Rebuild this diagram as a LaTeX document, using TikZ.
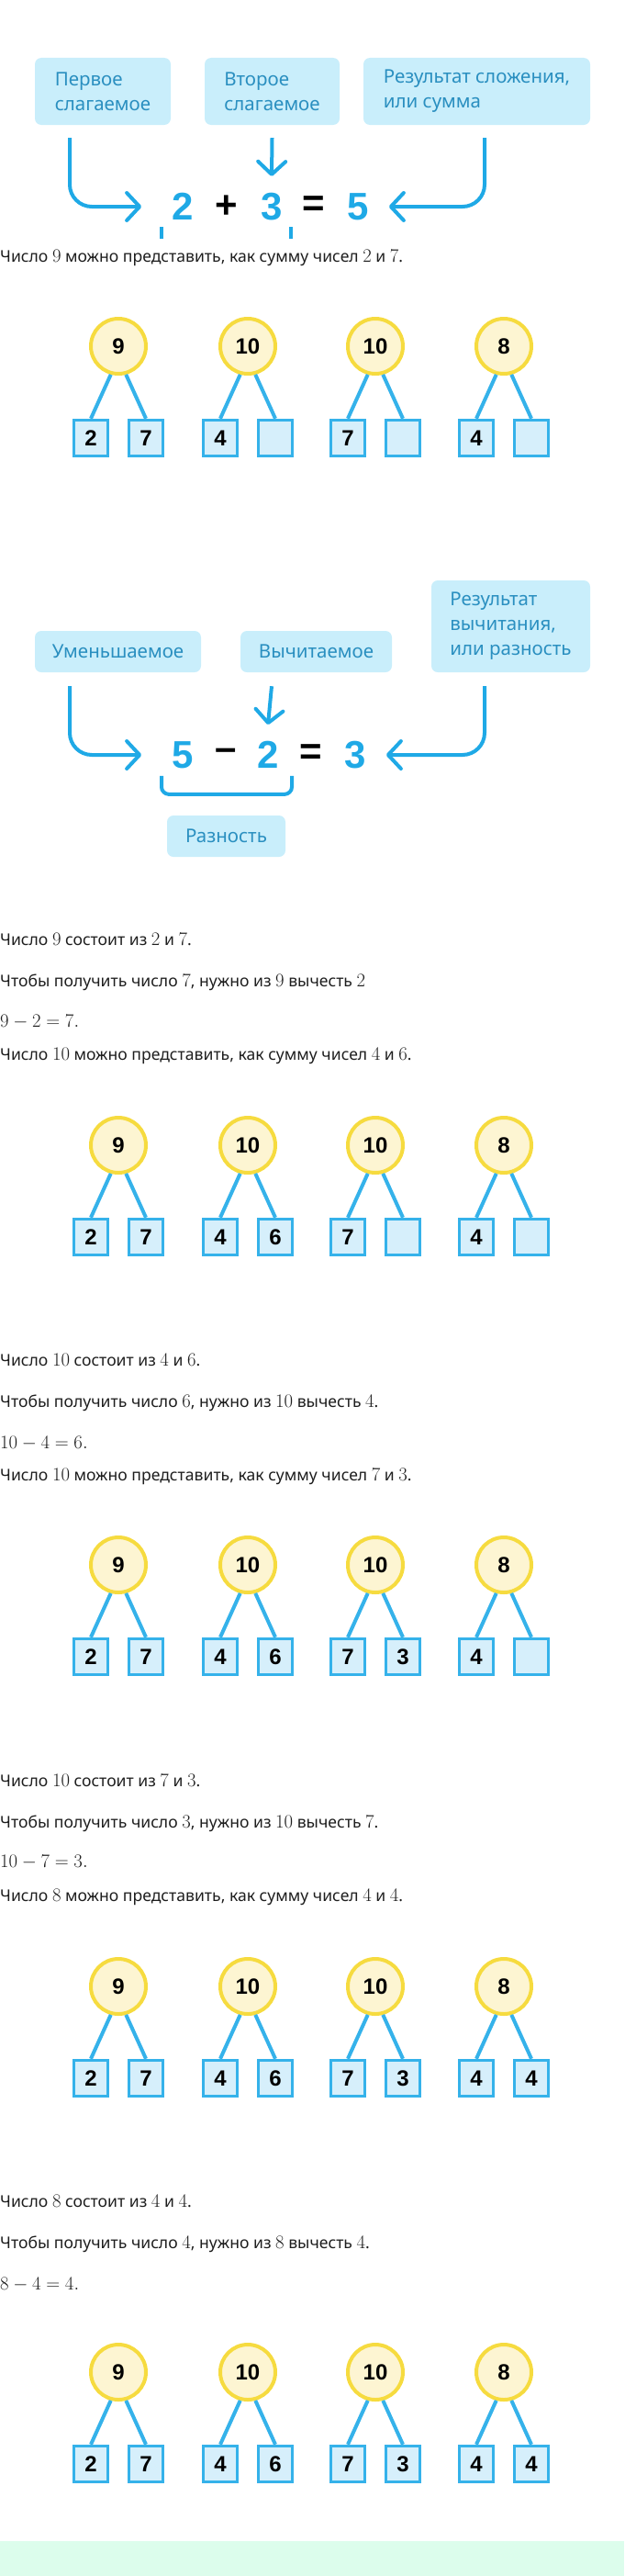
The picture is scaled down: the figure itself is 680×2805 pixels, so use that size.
\documentclass[tikz,border=0pt]{standalone}
\usepackage[no-math]{fontspec}
\setmainfont{Noto Sans}
\newfontfamily\digitfont{Liberation Sans}
\usetikzlibrary{arrows.meta}

\definecolor{arrowblue}{HTML}{1FA9E6}
\definecolor{termfill}{HTML}{C9EEFB}
\definecolor{termtext}{HTML}{2A8FC0}
\definecolor{circstroke}{HTML}{F6DB3F}
\definecolor{circfill}{HTML}{FDF5D2}
\definecolor{boxstroke}{HTML}{35B2EA}
\definecolor{boxfill}{HTML}{D6EFFB}
\definecolor{textgray}{HTML}{1E1E1E}
\definecolor{bandgreen}{HTML}{DCFDEC}

\tikzset{
  term/.style={fill=termfill, rounded corners=7pt, text=termtext, align=left, inner sep=0pt, font=\fontsize{20.5}{27}\selectfont},
  arr/.style={draw=arrowblue, line width=4pt, -{Straight Barb[length=14pt,width=30pt,round]}},
  brace/.style={draw=arrowblue, line width=4pt, rounded corners=8pt},
  eqnum/.style={inner sep=0pt, text=arrowblue, font=\digitfont\bfseries\fontsize{42}{42}\selectfont},
  eqop/.style={inner sep=0pt, text=black, font=\digitfont\bfseries\fontsize{42}{42}\selectfont},
  txt/.style={anchor=base west, inner sep=0pt, text=textgray, font=\fontsize{17.6}{20}\selectfont},
  mline/.style={txt, font=\fontsize{21}{21}\selectfont},
  sumcirc/.style={circle, draw=circstroke, fill=circfill, line width=4pt, minimum size=60pt, inner sep=0pt, font=\digitfont\bfseries\fontsize{24}{24}\selectfont},
  partbox/.style={draw=boxstroke, fill=boxfill, line width=3.5pt, minimum width=37pt, minimum height=39pt, inner sep=0pt, font=\digitfont\bfseries\fontsize{24}{24}\selectfont},
  twig/.style={draw=boxstroke, line width=4pt}
}
\newcommand\mnum[1]{{\fontsize{21}{21}\selectfont$#1$}}

\begin{document}
\begin{tikzpicture}[x=1pt,y=-1pt]
\useasboundingbox (0,0) rectangle (680,2805);

% addition
\node[term, minimum width=148pt, minimum height=73pt] (sum1) at (112,99.5) {Первое\\слагаемое};
\node[term, minimum width=147pt, minimum height=73pt] (sum2) at (296.5,99.5) {Второе\\слагаемое};
\node[term, minimum width=247pt, minimum height=73pt] (sum3) at (519.5,99.5) {Результат сложения,\\или сумма};

\node[eqnum] (d1) at (199,225) {2};
\node[eqop] (d2) at (247,225) {+};
\node[eqnum] (d3) at (296,225) {3};
\node[eqop] (d4) at (342,225) {=};
\node[eqnum] (d5) at (390,225) {5};

\draw[arr, rounded corners=24pt] ([xshift=-36pt,yshift=-14pt]sum1.south) |- ([xshift=-33pt]d1.west);
\draw[arr] ([yshift=-14pt]sum2.south) -- ([yshift=18pt]d3.north);
\draw[arr, rounded corners=24pt] ([xshift=8.5pt,yshift=-14pt]sum3.south) |- ([xshift=22pt]d5.east);
\draw[brace] ([xshift=-23pt,yshift=-7pt]d1.south) -- ++(0,13);
\draw[brace] ([xshift=21pt,yshift=-7pt]d3.south) -- ++(0,13);

\node[txt] (l1) at (0,285) {Число \mnum{9} можно представить, как сумму чисел \mnum{2} и \mnum{7}.};

% subtraction
\node[term, minimum width=181pt, minimum height=45pt] (dif1) at (128.5,709.5) {Уменьшаемое};
\node[term, minimum width=165pt, minimum height=45pt] (dif2) at (344.5,709.5) {Вычитаемое};
\node[term, minimum width=173pt, minimum height=100pt] (dif3) at (556.5,682) {Результат\\вычитания,\\или разность};

\node[eqnum] (m1) at (199,822) {5};
\node[eqop] (m2) at (246,822) {–};
\node[eqnum] (m3) at (292,822) {2};
\node[eqop] (m4) at (339,822) {=};
\node[eqnum] (m5) at (387,822) {3};

\draw[arr, rounded corners=24pt] ([xshift=-52.5pt,yshift=-15pt]dif1.south) |- ([xshift=-33pt]m1.west);
\draw[arr] ([xshift=-48.5pt,yshift=-15pt]dif2.south) -- ([yshift=18pt]m3.north);
\draw[arr, rounded corners=24pt] ([xshift=-28.5pt,yshift=-15pt]dif3.south) |- ([xshift=22pt]m5.east);
\draw[brace] ([xshift=-23pt,yshift=-8pt]m1.south) -- ++(0,20) -| ([xshift=26pt,yshift=-8pt]m3.south);
\node[term, minimum width=129pt, minimum height=45pt] (rest) at (246.5,910.5) {Разность};

% text
\node[txt] (l2) at (0,1029) {Число \mnum{9} состоит из \mnum{2} и \mnum{7}.};
\node[txt] (l3) at (0,1074) {Чтобы получить число \mnum{7}, нужно из \mnum{9} вычесть \mnum{2}};
\node[mline] (l4) at (0,1118) {$9-2=7.$};
\node[txt] (l5) at (0,1154) {Число \mnum{10} можно представить, как сумму чисел \mnum{4} и \mnum{6}.};
\node[txt] (l6) at (0,1487) {Число \mnum{10} состоит из \mnum{4} и \mnum{6}.};
\node[txt] (l7) at (0,1532) {Чтобы получить число \mnum{6}, нужно из \mnum{10} вычесть \mnum{4}.};
\node[mline] (l8) at (0,1577) {$10-4=6.$};
\node[txt] (l9) at (0,1612) {Число \mnum{10} можно представить, как сумму чисел \mnum{7} и \mnum{3}.};
\node[txt] (l10) at (0,1945) {Число \mnum{10} состоит из \mnum{7} и \mnum{3}.};
\node[txt] (l11) at (0,1990) {Чтобы получить число \mnum{3}, нужно из \mnum{10} вычесть \mnum{7}.};
\node[mline] (l12) at (0,2033) {$10-7=3.$};
\node[txt] (l13) at (0,2070) {Число \mnum{8} можно представить, как сумму чисел \mnum{4} и \mnum{4}.};
\node[txt] (l14) at (0,2403) {Число \mnum{8} состоит из \mnum{4} и \mnum{4}.};
\node[txt] (l15) at (0,2448) {Чтобы получить число \mnum{4}, нужно из \mnum{8} вычесть \mnum{4}.};
\node[mline] (l16) at (0,2493) {$8-4=4.$};

% number trees
\foreach \blk/\cy/\nd/\nf/\nh in {1/377/{}/{}/{}, 2/1247/6/{}/{}, 3/1704/6/3/{}, 4/2163/6/3/4, 5/2583/6/3/4}{
  \foreach \i/\x/\n/\l/\r in {1/129/9/2/7, 2/270/10/4/\nd, 3/409/10/7/\nf, 4/549/8/4/\nh}{
    \node[sumcirc] (c\blk-\i) at (\x,\cy) {\n};
    \node[partbox] (p\blk-\i a) at (\x-30,\cy+100) {\l};
    \node[partbox] (p\blk-\i b) at (\x+30,\cy+100) {\r};
    \draw[twig] (c\blk-\i.-105) -- (p\blk-\i a.north);
    \draw[twig] (c\blk-\i.-75) -- (p\blk-\i b.north);
  }
}

\fill[bandgreen] (0,2767) rectangle (680,2805);
\end{tikzpicture}
\end{document}
